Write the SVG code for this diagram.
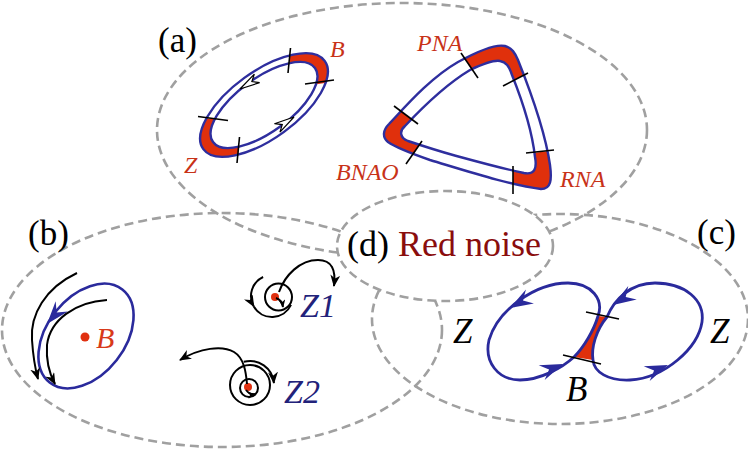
<svg xmlns="http://www.w3.org/2000/svg" width="748" height="449" viewBox="0 0 748 449">
<style>
.region{fill:none;stroke:#a0a0a0;stroke-width:2.6;stroke-dasharray:9 5}
text{font-family:"Liberation Serif","Times New Roman",serif}
.lbl{font-size:35px;fill:#000}
.it{font-style:italic}
.redlbl{font-size:24px;fill:#c83218}
.ring{fill:none;stroke:#2e2e9e;stroke-width:2.4}
.tick{stroke:#000;stroke-width:1.6;fill:none}
.traj{fill:none;stroke:#000;stroke-width:2}
.blue{fill:none;stroke:#2a2a9c;stroke-width:2.8}
.dot{fill:#e03010}
</style>
<defs>
<marker id="ah" viewBox="0 0 12 10" refX="11" refY="5" markerWidth="12" markerHeight="10" markerUnits="userSpaceOnUse" orient="auto"><path d="M0,0 L12,5 L0,10 L3.5,5 Z" fill="#000"/></marker>
<marker id="ahs" viewBox="0 0 12 10" refX="11" refY="5" markerWidth="8" markerHeight="7" markerUnits="userSpaceOnUse" orient="auto"><path d="M0,0 L12,5 L0,10 L3.5,5 Z" fill="#000"/></marker>
<path id="dart" d="M0,0 L-23,-8 L-15,0 L-23,8 Z"/>
<path id="odart" d="M0,0 L-20,-5 L-14,0 L-20,5 Z"/>
<clipPath id="ringClip">
<polygon points="291,38 289,74 305,86 345,80 345,38"/>
<polygon points="185,116.5 228,120.3 239.5,136 237,172 185,172"/>
</clipPath>
<clipPath id="triClip">
<polygon points="459,50 479,81 503,86 530,72 550,72 550,30 455,30"/>
<polygon points="392,105 420,125 424,139 405,166 365,166 365,105"/>
<polygon points="513,162 525,154 556,150 570,150 570,205 513,205"/>
</clipPath>
</defs>

<g id="region-a"><ellipse class="region" cx="402" cy="130" rx="245" ry="127"/></g>
<g id="region-b"><ellipse class="region" cx="222" cy="330" rx="220" ry="117"/></g>
<g id="region-c"><ellipse class="region" cx="560" cy="319" rx="188" ry="105"/></g>
<g id="region-d">
<ellipse class="region" cx="445" cy="246" rx="108" ry="55" style="fill:#fff"/>
<text class="lbl" x="347" y="256" style="font-size:36px">(d) <tspan fill="#8a0d0d">Red noise</tspan></text>
</g>

<text class="lbl" x="158" y="52">(a)</text>
<text class="lbl" x="28" y="245">(b)</text>
<text class="lbl" x="697" y="244">(c)</text>

<g id="cycle-ZB">
<g clip-path="url(#ringClip)"><ellipse cx="264" cy="105" rx="75" ry="33.5" transform="rotate(-36 264 105)" fill="#e0300c"/></g>
<ellipse class="ring" cx="264" cy="105" rx="63" ry="27" transform="rotate(-36 264 105)" style="fill:#fff"/>
<ellipse class="ring" cx="264" cy="105" rx="75" ry="33.5" transform="rotate(-36 264 105)"/>
<line class="tick" x1="290.5" y1="48" x2="288" y2="73"/>
<line class="tick" x1="305" y1="84" x2="334" y2="80"/>
<line class="tick" x1="198" y1="116.5" x2="228" y2="120.5"/>
<line class="tick" x1="239.5" y1="137" x2="237" y2="163"/>
<use href="#odart" transform="translate(240,89) rotate(148)" fill="#fff" stroke="#000" stroke-width="1.2"/>
<use href="#odart" transform="translate(294,117) rotate(-33)" fill="#fff" stroke="#000" stroke-width="1.2"/>
<text class="it redlbl" x="330" y="57">B</text>
<text class="it redlbl" x="184" y="173">Z</text>
</g>

<g id="cycle-PNA-RNA-BNAO">
<g clip-path="url(#triClip)"><path fill="#e0300c" d="M 458,62 C 480,50 497,44 505,46 C 512,48 515,53 518,60 C 530,90 545,130 550,165 C 552,180 551,189 541,189 C 510,185 470,172 430,160 C 410,153 395,147 388,142 C 382,137 383,130 389,124 C 405,107 430,78 458,62 Z"/></g>
<path class="ring" style="fill:#fff" d="M 470,70 C 485,63 495,60 500,61 C 506,62 509,66 512,75 C 522,100 532,130 535,157 C 537,168 535,175 524,173 C 500,168 475,161 453,155 C 435,150 420,145 408,141 C 400,138 399,131 405,126 C 420,110 445,85 470,70 Z"/>
<path class="ring" d="M 458,62 C 480,50 497,44 505,46 C 512,48 515,53 518,60 C 530,90 545,130 550,165 C 552,180 551,189 541,189 C 510,185 470,172 430,160 C 410,153 395,147 388,142 C 382,137 383,130 389,124 C 405,107 430,78 458,62 Z"/>
<line class="tick" x1="461" y1="53" x2="478" y2="78"/>
<line class="tick" x1="503" y1="86" x2="528" y2="73"/>
<line class="tick" x1="394" y1="106" x2="418" y2="124"/>
<line class="tick" x1="406" y1="164" x2="422" y2="141"/>
<line class="tick" x1="513" y1="166" x2="513" y2="194"/>
<line class="tick" x1="526" y1="153" x2="554" y2="150"/>
<text class="it redlbl" x="417" y="51">PNA</text>
<text class="it redlbl" x="336" y="180">BNAO</text>
<text class="it redlbl" x="560" y="187">RNA</text>
</g>

<g id="limit-cycle-B">
<ellipse class="blue" cx="86" cy="336" rx="59" ry="39" transform="rotate(-52 86 336)" style="stroke-width:2.6"/>
<use href="#dart" transform="translate(47,324) rotate(130)" fill="#2a2a9c"/>
<circle class="dot" cx="85" cy="337" r="4.5"/>
<text class="it" x="96" y="348" font-size="30" fill="#d83a1a">B</text>
</g>

<g id="fixed-Z1">
<circle class="traj" cx="278.5" cy="297" r="13.5"/>
<circle class="dot" cx="275" cy="297" r="4"/>
<text class="it" x="300" y="317" font-size="34" fill="#22227a">Z1</text>
</g>

<g id="fixed-Z2">
<circle class="traj" cx="250" cy="385" r="20"/>
<circle class="traj" cx="249" cy="388" r="9"/>
<circle class="dot" cx="248" cy="387" r="4"/>
<text class="it" x="284" y="403" font-size="34" fill="#22227a">Z2</text>
</g>

<g id="cycle-ZBZ">
<path fill="#e0300c" d="M 598,316 C 594,330 584,347 574,357 L 593,360 C 591,348 596,330 607,317 Z"/>
<path class="blue" d="M 598,316 C 604,300 592,283 568,283 C 535,283 498,310 489,340 C 484,362 498,380 520,380 C 540,380 562,368 574,357 C 584,347 594,330 598,316 Z"/>
<path class="blue" d="M 607,317 C 614,300 630,283 655,283 C 685,283 705,300 702,322 C 698,348 665,378 630,380 C 608,381 594,372 593,360 C 591,348 596,330 607,317 Z"/>
<line class="tick" x1="586" y1="312" x2="619" y2="319"/>
<line class="tick" x1="563" y1="355" x2="601" y2="364"/>
<use href="#dart" transform="translate(510,308) rotate(150)" fill="#2a2a9c"/>
<use href="#dart" transform="translate(563,364) rotate(-22)" fill="#2a2a9c"/>
<use href="#dart" transform="translate(613,305) rotate(148)" fill="#2a2a9c"/>
<use href="#dart" transform="translate(668,365) rotate(-22)" fill="#2a2a9c"/>
<text class="it" x="453" y="343" font-size="35" fill="#000">Z</text>
<text class="it" x="710" y="343" font-size="35" fill="#000">Z</text>
<text class="it" x="566" y="401" font-size="35" fill="#000">B</text>
</g>

<g id="connectors">
<path class="traj" d="M 77,273 C 45,288 30,315 32,340 C 33,355 35,368 38,379" marker-end="url(#ah)"/>
<path class="traj" d="M 107,300 C 75,302 50,320 47,345 C 46,360 49,373 55,384" marker-end="url(#ah)"/>
<path class="traj" d="M 263.1,277 A 21 21 0 0 0 253.8,306.5" marker-end="url(#ah)"/>
<path class="traj" d="M 253.8,306.5 A 21 21 0 0 0 291,304.9"/>
<path class="traj" d="M 276,298 Q 282,300 283,307" marker-end="url(#ahs)"/>
<path class="traj" d="M 279,292 C 285,275 300,260 318,260 C 332,260 336,270 334,286" marker-end="url(#ah)"/>
<path class="traj" d="M 243.8,361.8 A 24 24 0 0 1 273.9,383" marker-end="url(#ah)"/>
<path class="traj" d="M 247,384 C 246,372 244,358 234,352 C 222,345 200,348 180,360" marker-end="url(#ah)"/>
<path class="traj" d="M 246,390 Q 250,395 255,394" marker-end="url(#ahs)"/>
</g>
</svg>
